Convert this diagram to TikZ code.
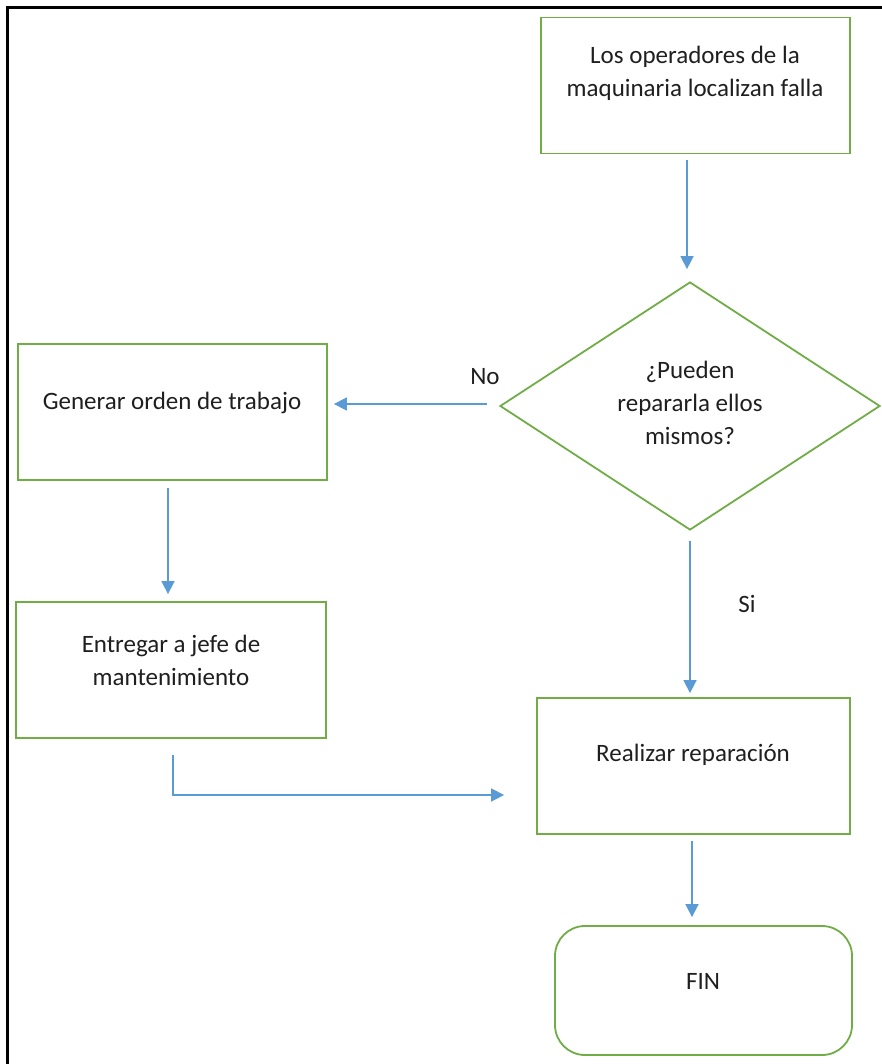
\documentclass[tikz,border=0pt]{standalone}
\usepackage{fontspec}
\setmainfont{Carlito}
\usetikzlibrary{arrows.meta,shapes.geometric,calc}
\definecolor{gr}{RGB}{112,173,71}
\definecolor{bl}{RGB}{91,155,213}
\begin{document}
\begin{tikzpicture}[x=1pt,y=-1pt,
  box/.style={draw=gr,line width=1.8pt,inner sep=0pt,minimum width=309pt,minimum height=136pt},
  txt/.style={font=\fontsize{25}{33}\selectfont,align=center,text=black!88,inner sep=0pt},
  arr/.style={draw=bl,line width=1.6pt,-{Triangle[length=13pt,width=13pt]}}]
\useasboundingbox (0,0) rectangle (882,1064);
\fill[white] (0,0) rectangle (882,1064);
\draw[line width=3pt,black] (7,1070) -- (7,8) -- (890,8);
% nodes
\node[box] (b1) at (695.5,85.5) {};
\node[txt] (t1) at (695,73) {Los operadores de la\\maquinaria localizan falla};
\node[draw=gr,line width=1.8pt,diamond,inner sep=0pt,minimum width=380pt,minimum height=248pt] (dec) at (690,406) {};
\node[txt] (t2) at (690,403) {¿Pueden\\repararla ellos\\mismos?};
\node[box] (b2) at (172.5,412) {};
\node[txt] (t3) at (172,403) {Generar orden de trabajo};
\node[box,minimum width=310pt] (b3) at (171,670) {};
\node[txt] (t4) at (171,660) {Entregar a jefe de\\mantenimiento};
\node[box,minimum width=313pt] (b4) at (693.5,766) {};
\node[txt] (t5) at (693,755) {Realizar reparación};
\node[box,minimum width=297pt,minimum height=129pt,rounded corners=30pt] (fin) at (703.5,990.5) {};
\node[txt] (t6) at (703,981) {FIN};
\node[txt] (no) at (485,377) {No};
\node[txt] (si) at (747,604) {Si};
% connectors
\draw[arr] ($(b1.south)+(-8.5,6)$) -- ($(dec.north)+(-3,-12)$);
\draw[arr] ($(dec.west)+(-12,-2)$) -- ($(b2.east)+(6,-8)$);
\draw[arr] ($(b2.south)+(-4.5,7)$) -- ($(b3.north)+(-3,-7)$);
\draw[arr] ($(dec.south)+(0,10)$) -- ($(b4.north)+(-3.5,-4)$);
\draw[arr] ($(b3.south)+(2,16)$) |- ($(b4.west)+(-32,29)$);
\draw[arr] ($(b4.south)+(-1.5,6)$) -- ($(fin.north)+(-11.5,-8)$);
\end{tikzpicture}
\end{document}
